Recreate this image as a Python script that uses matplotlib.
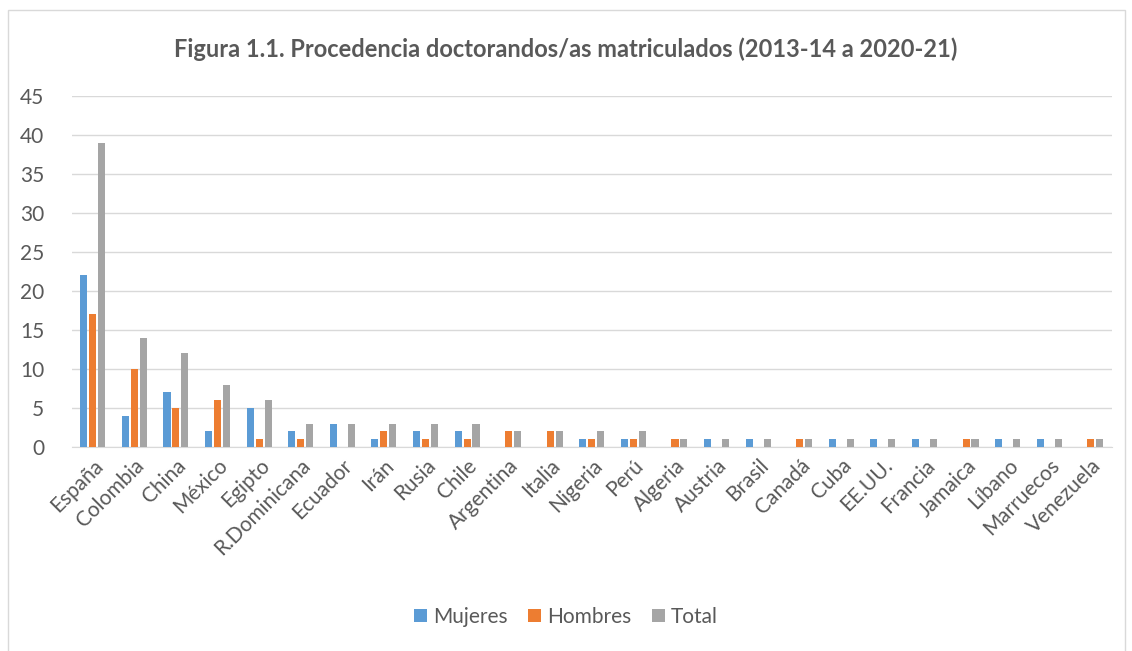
import numpy as np
import matplotlib.pyplot as plt
from matplotlib.patches import Rectangle

paises = ["España", "Colombia", "China", "México", "Egipto", "R.Dominicana",
          "Ecuador", "Irán", "Rusia", "Chile", "Argentina", "Italia", "Nigeria",
          "Perú", "Algeria", "Austria", "Brasil", "Canadá", "Cuba", "EE.UU.",
          "Francia", "Jamaica", "Líbano", "Marruecos", "Venezuela"]
mujeres = [22, 4, 7, 2, 5, 2, 3, 1, 2, 2, 0, 0, 1, 1, 0, 1, 1, 0, 1, 1, 1, 0, 1, 1, 0]
hombres = [17, 10, 5, 6, 1, 1, 0, 2, 1, 1, 2, 2, 1, 1, 1, 0, 0, 1, 0, 0, 0, 1, 0, 0, 1]
total = [39, 14, 12, 8, 6, 3, 3, 3, 3, 3, 2, 2, 2, 2, 1, 1, 1, 1, 1, 1, 1, 1, 1, 1, 1]

plt.rcParams["font.family"] = ["Lato", "DejaVu Sans"]
txt = "#595959"

fig = plt.figure(figsize=(11.32, 6.51), dpi=100)
ax = fig.add_axes([0.0636, 0.3134, 0.9184, 0.5391])

x = np.arange(len(paises))
w = 0.17
ax.bar(x - 0.215, mujeres, w, color="#5B9BD5", label="Mujeres", zorder=3)
ax.bar(x, hombres, w, color="#ED7D31", label="Hombres", zorder=3)
ax.bar(x + 0.215, total, w, color="#A5A5A5", label="Total", zorder=3)

ax.set_xlim(-0.5, len(paises) - 0.5)
ax.set_ylim(0, 45)
ax.set_yticks(range(0, 46, 5))
ax.grid(axis="y", color="#D9D9D9", linewidth=1, zorder=0)
for s in ["top", "right", "left"]:
    ax.spines[s].set_visible(False)
ax.spines["bottom"].set_color("#D9D9D9")
ax.tick_params(length=0, labelsize=15, colors=txt)
ax.tick_params(axis="y", pad=20)
ax.set_xticks(x)
ax.set_xticklabels(paises, rotation=45, ha="right", rotation_mode="anchor")
ax.tick_params(axis="x", pad=6)

fig.text(0.5, 0.925, "Figura 1.1. Procedencia doctorandos/as matriculados (2013-14 a 2020-21)",
         ha="center", va="center", fontsize=17, fontweight="bold", color=txt)

fig.legend(loc="center", bbox_to_anchor=(0.5, 0.052), ncol=3, frameon=False,
           fontsize=15, labelcolor=txt, handlelength=0.6, handleheight=0.6,
           columnspacing=1.0, handletextpad=0.3)

fig.patches.append(Rectangle((8 / 1132, -0.01), 1117 / 1132, 0.995, transform=fig.transFigure,
                             fill=False, edgecolor="#D9D9D9", linewidth=1))

fig.savefig("out.png", dpi=100)
